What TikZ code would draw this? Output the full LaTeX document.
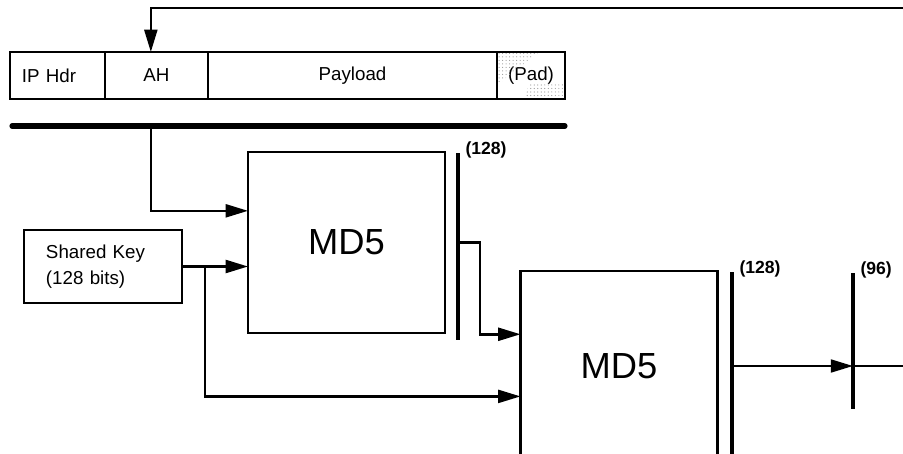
\documentclass[tikz,border=0pt]{standalone}
\usepackage{fontspec}
\setmainfont{Liberation Sans}
\usetikzlibrary{arrows.meta,patterns,positioning,calc}

\tikzset{
  field/.style={draw, line width=2.1pt, inner sep=0pt, outer sep=0pt,
    minimum height=1.41cm, font=\fontsize{16}{19}\selectfont},
  keybox/.style={draw, line width=2.1pt, outer sep=0pt, inner ysep=0pt,
    inner xsep=0.66cm, text width=3.42cm, align=left,
    minimum height=2.19cm, font=\fontsize{16}{22}\selectfont},
  hashbox/.style={draw, line width=2.1pt, inner sep=0pt, outer sep=0pt,
    minimum width=5.91cm, font=\fontsize{31}{36}\selectfont},
  wire/.style={line width=2.1pt},
  tip/.style={-{Triangle[length=19pt,width=11pt]}},
  bus/.style={line width=3.8pt},
  buslabel/.style={anchor=west, inner sep=0pt, xshift=0.22cm, yshift=0.09cm,
    font=\bfseries\fontsize{15}{18}\selectfont},
}

\begin{document}
\begin{tikzpicture}[x=0.03cm, y=-0.03cm]
  \useasboundingbox (0,0) rectangle (903,454);

  % packet
  \node[field, minimum width=2.85cm, inner xsep=0.36cm, text width=2.13cm, align=left] (iphdr) at (57.5,75.5) {IP Hdr};
  \node[field, minimum width=3.09cm, right=0pt of iphdr] (ah) {AH};
  \node[field, minimum width=8.67cm, right=0pt of ah] (payload) {Payload};
  \node[field, minimum width=2.04cm, right=0pt of payload] (pad) {(Pad)};
  \fill[pattern=dots, pattern color=black!40] (pad.north west) -- ++(42,0) -- ++(-42,33) -- cycle;
  \fill[pattern=dots, pattern color=black!40] ($(pad.south east)+(-40,0)$) -- (pad.south east) -- ++(0,-16) -- ++(-36,0) -- cycle;
  \draw[line width=2.1pt] (pad.north west) rectangle (pad.south east);

  \coordinate (barl) at (12,126);
  \coordinate (barr) at (565,126);
  \draw[line width=4.4pt, line cap=round] (barl) -- (barr);

  \coordinate (tap) at ([xshift=-0.17cm]ah.north);
  \coordinate (fb) at (910,8);
  \draw[wire,tip] (fb) -| (tap);

  % hashing
  \node[keybox, minimum width=4.74cm] (key) at (103,266.5) {Shared Key\\(128 bits)};
  \node[hashbox, minimum height=5.43cm] (md1) at (346.5,242.5) {MD5};
  \node[hashbox, minimum height=5.7cm] (md2) at (619,366) {MD5};

  \coordinate (bus1t) at (458,153);
  \coordinate (bus1b) at (458,340);
  \coordinate (bus2t) at (732,272);
  \coordinate (bus2b) at (732,470);
  \coordinate (bus3t) at (853,273);
  \coordinate (bus3b) at (853,409);
  \draw[bus] (bus1t) -- (bus1b);
  \draw[bus] (bus2t) -- (bus2b);
  \draw[bus] (bus3t) -- (bus3b);
  \node[buslabel] (lab1) at (bus1t) {(128)};
  \node[buslabel] (lab2) at (bus2t) {(128)};
  \node[buslabel] (lab3) at (bus3t) {(96)};

  \draw[wire,tip] (tap |- barl) |- ($(md1.north west)!0.325!(md1.south west)$);
  \draw[wire,tip] (key.east) -- (key.east -| md1.west);
  \coordinate (split) at ($(key.east)+(23,0)$);
  \draw[wire,tip] (split) |- ($(md2.north west)!0.66!(md2.south west)$);
  \draw[wire,tip] (bus1t |- md1.east) -- ++(22,0) |- ($(md2.north west)!0.333!(md2.south west)$);
  \draw[wire,tip] (bus2t |- md2.east) -- (bus3t |- md2.east);
  \draw[wire] (bus3t |- md2.east) -- ++(60,0);
\end{tikzpicture}
\end{document}
